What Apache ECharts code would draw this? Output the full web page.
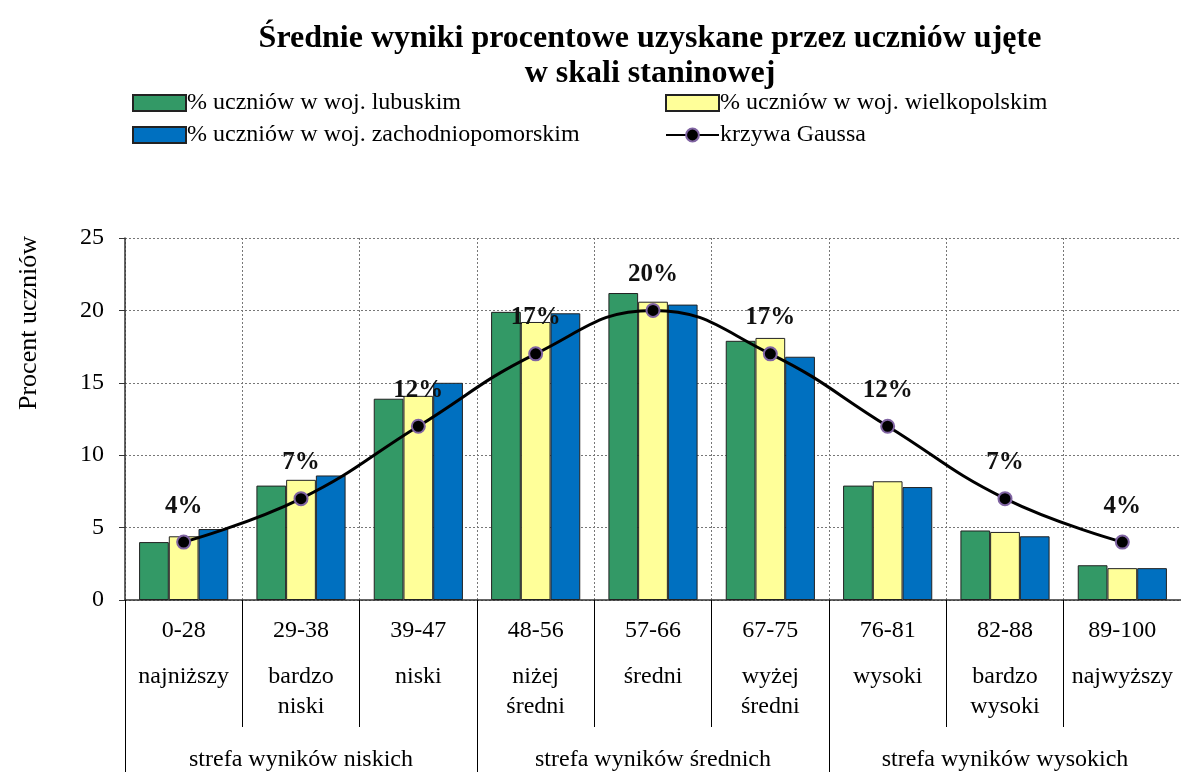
<!DOCTYPE html>
<html>
<head>
<meta charset="utf-8">
<script src="https://cdn.jsdelivr.net/npm/echarts@6/dist/echarts.min.js"></script>
<style>
  html, body { margin: 0; padding: 0; background: #fff; }
  #chart { width: 1181px; height: 772px; }
</style>
</head>
<body>
<div id="chart"></div>
<script>
// dane
const categories = ['0-28', '29-38', '39-47', '48-56', '57-66', '67-75', '76-81', '82-88', '89-100'];
const levelNames = ['najniższy', 'bardzo\nniski', 'niski', 'niżej\nśredni', 'średni', 'wyżej\nśredni', 'wysoki', 'bardzo\nwysoki', 'najwyższy'];
const zones = ['strefa wyników niskich', 'strefa wyników średnich', 'strefa wyników wysokich'];
const lubuskie = [4.0, 7.9, 13.9, 19.9, 21.2, 17.9, 7.9, 4.8, 2.4];
const wielkopolskie = [4.4, 8.3, 14.1, 19.2, 20.6, 18.1, 8.2, 4.7, 2.2];
const zachodniopomorskie = [4.9, 8.6, 15.0, 19.8, 20.4, 16.8, 7.8, 4.4, 2.2];
const gauss = [4, 7, 12, 17, 20, 17, 12, 7, 4];
const yMin = 0, yMax = 25, yStep = 5;

const FONT = '"Liberation Serif", "DejaVu Serif", serif';
const chart = echarts.init(document.getElementById('chart'));

const barSeries = (name, data, color) => ({
  name: name,
  type: 'bar',
  data: data,
  barGap: '0%',
  barCategoryGap: '24%',
  itemStyle: { color: color, borderColor: '#222', borderWidth: 1 },
  z: 2
});

const legendText = { fontFamily: FONT, fontSize: 24, lineHeight: 28, color: '#000', padding: [0, 0, 0, -4] };

chart.setOption({
  backgroundColor: '#fff',
  animation: false,
  textStyle: { fontFamily: FONT, color: '#000' },
  title: {
    text: 'Średnie wyniki procentowe uzyskane przez uczniów ujęte\nw skali staninowej',
    left: 645,
    textAlign: 'center',
    top: 16,
    textStyle: { fontFamily: FONT, fontSize: 32, fontWeight: 'bold', lineHeight: 35, color: '#000' }
  },
  legend: [
    {
      data: [
        { name: '% uczniów w woj. lubuskim', icon: 'rect' },
        { name: '% uczniów w woj. zachodniopomorskim', icon: 'rect' }
      ],
      orient: 'vertical', left: 132, top: 89, padding: 0,
      itemWidth: 53, itemHeight: 16, itemGap: 4,
      textStyle: legendText
    },
    {
      data: [
        { name: '% uczniów w woj. wielkopolskim', icon: 'rect' },
        'krzywa Gaussa'
      ],
      orient: 'vertical', left: 665, top: 89, padding: 0,
      itemWidth: 53, itemHeight: 16, itemGap: 4,
      textStyle: legendText
    }
  ],
  grid: { left: 125, right: 0, top: 238, bottom: 170 },
  xAxis: [
    {
      type: 'category',
      data: categories,
      axisLine: { lineStyle: { color: '#333', width: 1.5 } },
      axisTick: { show: true, length: 127, lineStyle: { color: '#000', width: 1 } },
      splitLine: { show: true, lineStyle: { color: '#777', type: [2, 2], width: 1 } },
      axisLabel: {
        margin: 0,
        interval: 0,
        formatter: (value, index) =>
          '{a|' + value + '}\n' + levelNames[index].split('\n').map(s => '{b|' + s + '}').join('\n'),
        rich: {
          a: { fontFamily: FONT, fontSize: 24, lineHeight: 62, color: '#000' },
          b: { fontFamily: FONT, fontSize: 24, lineHeight: 30, color: '#000' }
        }
      }
    },
    {
      type: 'category',
      data: zones,
      position: 'bottom',
      axisLine: { show: false },
      axisTick: { show: true, length: 172, lineStyle: { color: '#000', width: 1 } },
      splitLine: { show: false },
      axisLabel: { margin: 148, interval: 0, fontFamily: FONT, fontSize: 24, color: '#000' }
    }
  ],
  yAxis: {
    type: 'value',
    min: yMin,
    max: yMax,
    interval: yStep,
    axisLine: { show: true, lineStyle: { color: '#333', width: 1.5 } },
    axisTick: { show: true, length: 6, lineStyle: { color: '#333' } },
    axisLabel: { margin: 21, fontFamily: FONT, fontSize: 24, color: '#000' },
    splitLine: { show: true, lineStyle: { color: '#777', type: [2, 2], width: 1 } }
  },
  graphic: [
    {
      type: 'text',
      left: 16,
      top: 236,
      rotation: Math.PI / 2,
      style: { text: 'Procent uczniów', font: '26px ' + FONT, fill: '#000' }
    }
  ],
  series: [
    barSeries('% uczniów w woj. lubuskim', lubuskie, '#339966'),
    barSeries('% uczniów w woj. wielkopolskim', wielkopolskie, '#FFFF99'),
    barSeries('% uczniów w woj. zachodniopomorskim', zachodniopomorskie, '#0070C0'),
    {
      name: 'krzywa Gaussa',
      type: 'line',
      data: gauss,
      smooth: 0.45,
      symbol: 'circle',
      symbolSize: 13,
      lineStyle: { color: '#000', width: 3 },
      itemStyle: { color: '#000', borderColor: '#8064A2', borderWidth: 2 },
      label: {
        show: true,
        position: 'top',
        distance: 16,
        formatter: '{c}%',
        fontFamily: FONT,
        fontSize: 25,
        fontWeight: 'bold',
        color: '#111'
      },
      z: 5
    }
  ]
});
</script>
</body>
</html>
